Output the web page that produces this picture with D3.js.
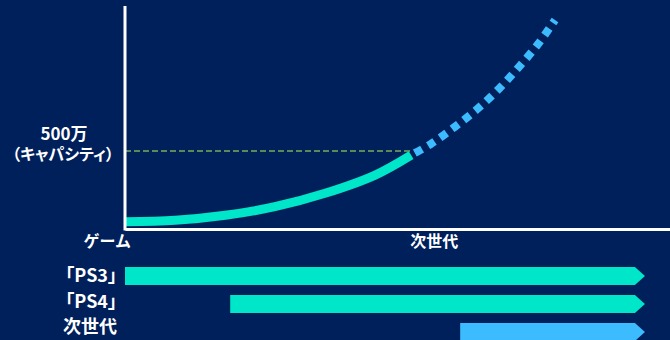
<!DOCTYPE html>
<html>
<head>
<meta charset="utf-8">
<script src="https://cdn.jsdelivr.net/npm/d3@7"></script>
<style>
  html, body { margin: 0; padding: 0; background: #00205b; }
  svg { display: block; }
  text { font-family: "Noto Sans CJK JP", "Noto Sans", sans-serif; font-weight: 700; fill: #ffffff; }
  .palt { font-feature-settings: "palt"; }
</style>
</head>
<body>
<div id="chart"></div>
<script>
// growth curve (time in arbitrary units 0-100, value in 万)
const growthX = [0, 9.2, 18.4, 27.5, 36.7, 45.9, 52.5];
const growthY = [47, 56, 88, 143, 229, 346, 474];
// forecast (dashed) part
const forecastX = [52.5, 56.1, 60.55, 64.8, 68.7, 72.3, 75.8, 78.9];
const forecastY = [474, 545, 656, 774, 902, 1040, 1186, 1340];

const capacity = 500;
const capacityLabel = ["500万", "（キャパシティ）"];
const axisLabels = ["ゲーム", "次世代"];

// timeline bars
const platforms = ["「PS3」", "「PS4」", "次世代"];
const barStart = [0, 19.3, 61.5];
const barEnd = [95.4, 95.4, 95.4];
const barColor = ["#00e6c9", "#00e6c9", "#3dbbff"];

const w = 670, h = 340;

const svg = d3.select("#chart")
  .append("svg")
  .attr("width", w)
  .attr("height", h);

const x = d3.scaleLinear().domain([0, 100]).range([125, 670]);
const y = d3.scaleLinear().domain([0, 1430]).range([229, 6]);

// capacity guide line
svg.append("line")
  .attr("x1", x(0))
  .attr("x2", x(growthX[growthX.length - 1]))
  .attr("y1", y(capacity))
  .attr("y2", y(capacity))
  .attr("stroke", "#5b8a56")
  .attr("stroke-width", 2)
  .attr("stroke-dasharray", "6,3");

// curves
const line = d3.line()
  .x(d => x(d[0]))
  .y(d => y(d[1]))
  .curve(d3.curveCatmullRom.alpha(0.5));

svg.append("path")
  .attr("d", line(d3.zip(growthX, growthY)))
  .attr("fill", "none")
  .attr("stroke", "#00e6c9")
  .attr("stroke-width", 9);

svg.append("path")
  .attr("d", line(d3.zip(forecastX, forecastY)))
  .attr("fill", "none")
  .attr("stroke", "#3dbbff")
  .attr("stroke-width", 8)
  .attr("stroke-dasharray", "8,6.7")
  .attr("stroke-dashoffset", 10.2);

// axes
const xAxis = svg.append("g")
  .attr("transform", `translate(0,${y(0)})`)
  .call(d3.axisBottom(x).tickValues([]).tickSizeOuter(0));
const yAxis = svg.append("g")
  .attr("transform", `translate(${x(0)},0)`)
  .call(d3.axisLeft(y).tickValues([]).tickSizeOuter(0));
svg.selectAll(".domain")
  .attr("stroke", "#ffffff")
  .attr("stroke-width", 3);
yAxis.select(".domain").attr("d", `M0,${y(0) + 1.5}V${y(1430)}`);

// labels
svg.append("text")
  .attr("x", 64).attr("y", 140)
  .attr("text-anchor", "middle")
  .attr("font-size", 17)
  .text(capacityLabel[0]);
svg.append("text")
  .attr("x", 63).attr("y", 160)
  .attr("text-anchor", "middle")
  .attr("font-size", 16)
  .attr("class", "palt")
  .text(capacityLabel[1]);

svg.append("text")
  .attr("x", x(0) + 6).attr("y", 247)
  .attr("text-anchor", "end")
  .attr("font-size", 16)
  .text(axisLabels[0]);
svg.append("text")
  .attr("x", x(growthX[growthX.length - 1]) - 1).attr("y", 247)
  .attr("text-anchor", "start")
  .attr("font-size", 16)
  .text(axisLabels[1]);

// timeline rows
const row = d3.scalePoint().domain(platforms).range([276, 332]);
const labelRow = d3.scalePoint().domain(platforms).range([282, 333]);
const barH = 18, tip = 10;

const bars = svg.append("g").selectAll("g")
  .data(platforms)
  .join("g");

bars.append("path")
  .attr("d", (d, i) => {
    const x0 = x(barStart[i]), x1 = x(barEnd[i]), c = row(d);
    return `M${x0},${c - barH / 2}H${x1 - tip}L${x1},${c}L${x1 - tip},${c + barH / 2}H${x0}Z`;
  })
  .attr("fill", (d, i) => barColor[i]);

bars.append("text")
  .attr("class", "palt")
  .attr("x", 117)
  .attr("y", d => labelRow(d))
  .attr("text-anchor", "end")
  .attr("font-size", 18)
  .text(d => d);
</script>
</body>
</html>
